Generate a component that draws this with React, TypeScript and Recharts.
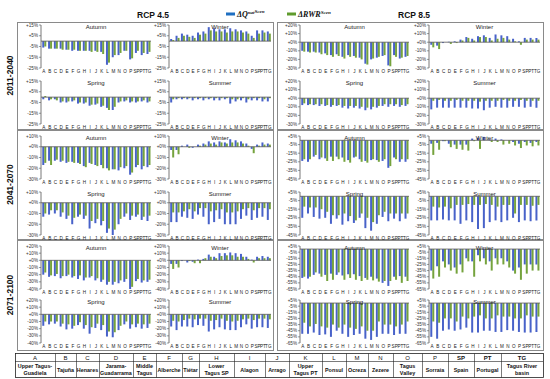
import React from 'react';
import { BarChart, Bar, XAxis, YAxis, ReferenceLine } from 'recharts';

// basin codes shown on every small x axis
const basins = ['A', 'B', 'C', 'D', 'E', 'F', 'G', 'H', 'I', 'J', 'K', 'L', 'M', 'N', 'O', 'P', 'SP', 'PT', 'TG'];

// ---- 2011-2040, RCP 4.5 ----
const q45_1_aut = [-6, -7, -7, -7, -8, -9, -9, -9, -9, -9, -10, -22, -15, -13, -9, -17, -11, -13, -12];
const rwr45_1_aut = [-5, -7, -7, -8, -8, -8, -9, -9, -10, -10, -12, -20, -13, -11, -9, -16, -9, -11, -10];
const q45_1_win = [2, 5, 7, 6, 5, 8, 9, 13, 12, 11, 11, 12, 11, 10, 9, 5, 10, 10, 9];
const rwr45_1_win = [1, 3, 5, 4, 3, 6, 7, 10, 9, 9, 8, 9, 9, 8, 7, 3, 7, 8, 7];
const q45_1_spr = [-2, -3, -2, -5, -5, -4, -6, -6, -8, -7, -9, -10, -12, -5, -4, -5, -5, -4, -5];
const rwr45_1_spr = [1, -2, -3, -4, -4, -3, -5, -5, -7, -6, -8, -12, -9, -4, -3, -4, -4, -3, -4];
const q45_1_sum = [-5, -2, -2, -2, -3, -2, -3, -2, -3, -3, -2, -6, -4, -3, -5, -3, -3, -4, -4];
const rwr45_1_sum = [-2, -1, -1, -1, -1, -1, -1, -1, -1, -1, -1, -2, -2, -1, -2, -1, -1, -2, -1];

// ---- 2011-2040, RCP 8.5 ----
const q85_1_aut = [-10, -11, -11, -12, -13, -15, -14, -17, -15, -16, -18, -25, -20, -18, -16, -27, -15, -19, -17];
const rwr85_1_aut = [-11, -12, -12, -14, -15, -17, -16, -19, -17, -18, -20, -26, -19, -17, -15, -28, -17, -18, -16];
const q85_1_win = [-3, -4, -1, 0.5, 1, 3, 6, 4, 7, 8, 5, 9, 8, 7, 4, 1, 5, 5, 5];
const rwr85_1_win = [-6, -8, 0, -2, -1, 2, 5, 2, 6, 6, 2, 4, 5, 3, 1, -3, 3, 3, 3];
const q85_1_spr = [-8, -8, -8, -9, -9, -10, -9, -11, -12, -11, -12, -14, -13, -11, -9, -10, -9, -10, -9];
const rwr85_1_spr = [-6, -7, -7, -7, -8, -8, -8, -9, -9, -9, -10, -11, -10, -9, -7, -7, -7, -8, -7];
const q85_1_sum = [-13, -11, -11, -11, -11, -11, -11, -12, -12, -14, -11, -10, -11, -11, -10, -10, -11, -10, -11];
const rwr85_1_sum = [-3, -2, -3, -3, -2, -3, -3, -3, -4, -3, -3, -3, -2, -3, -3, -2, -3, -3, -3];

// ---- 2041-2070, RCP 4.5 ----
const q45_2_aut = [-17, -13, -13, -14, -15, -14, -15, -18, -15, -17, -17, -20, -21, -22, -20, -26, -19, -21, -19];
const rwr45_2_aut = [-15, -17, -12, -13, -14, -15, -16, -19, -16, -18, -20, -22, -21, -19, -18, -24, -17, -18, -17];
const q45_2_win = [-3, -3, 1, 2, -1, 2, 3, 5, 4, 5, 4, 7, 6, 5, 3, -2, 2, 4, 3];
const rwr45_2_win = [-10, -7, 0, -1, 0, 1, 2, 3, 2, 4, 3, 4, 4, 3, 1, -6, 1, 2, 2];
const q45_2_spr = [-13, -11, -10, -13, -15, -20, -13, -15, -24, -19, -21, -28, -30, -20, -13, -16, -13, -16, -17];
const rwr45_2_spr = [-10, -7, -7, -9, -12, -14, -11, -12, -17, -15, -17, -24, -25, -15, -10, -12, -11, -13, -12];
const q45_2_sum = [-18, -18, -13, -14, -15, -11, -13, -20, -18, -15, -20, -20, -20, -15, -12, -16, -14, -13, -16];
const rwr45_2_sum = [-9, -9, -8, -6, -8, -5, -5, -8, -7, -6, -9, -9, -8, -6, -5, -7, -5, -5, -6];

// ---- 2041-2070, RCP 8.5 ----
const q85_2_aut = [-24, -25, -19, -22, -21, -19, -19, -20, -23, -20, -22, -24, -23, -23, -24, -32, -20, -25, -25];
const rwr85_2_aut = [-22, -22, -17, -20, -24, -24, -22, -25, -26, -19, -25, -26, -22, -25, -22, -30, -22, -22, -22];
const q85_2_win = [-4, -3, -1, -4, -5, -5, -5, 2, 3, 4, 1, 2, 1, 0, -2, -4, -2, -3, -2];
const rwr85_2_win = [-17, -11, -1, -8, -10, -11, -12, -1, -10, 0, -2, -2, -5, -4, -6, -9, -6, -7, -6];
const q85_2_spr = [-25, -20, -24, -26, -25, -32, -26, -33, -29, -31, -25, -37, -40, -32, -24, -29, -26, -29, -26];
const rwr85_2_spr = [-12, -13, -13, -15, -18, -22, -22, -20, -23, -28, -20, -25, -30, -22, -18, -20, -20, -20, -20];
const q85_2_sum = [-28, -28, -27, -28, -28, -32, -28, -30, -38, -37, -30, -28, -30, -28, -25, -30, -28, -29, -28];
const rwr85_2_sum = [-12, -13, -12, -14, -10, -10, -9, -10, -10, -9, -10, -12, -10, -10, -20, -10, -10, -11, -10];

// ---- 2071-2100, RCP 4.5 ----
const q45_3_aut = [-20, -23, -22, -25, -22, -24, -26, -28, -24, -28, -30, -34, -34, -32, -30, -40, -29, -31, -30];
const rwr45_3_aut = [-17, -21, -19, -22, -20, -22, -21, -24, -22, -25, -27, -30, -30, -28, -26, -37, -26, -28, -27];
const q45_3_win = [-5, -5, -1, -3, -2, 1, 2, 8, 5, 10, 10, 11, 10, 9, 5, 1, 5, 6, 5];
const rwr45_3_win = [-12, -10, 0, -1, -4, -4, 3, 5, 3, 6, 7, 7, 5, 5, 2, -3, 3, 3, 3];
const q45_3_spr = [-16, -14, -13, -17, -21, -20, -15, -20, -27, -19, -22, -31, -32, -22, -14, -20, -18, -20, -19];
const rwr45_3_spr = [-10, -10, -10, -13, -14, -16, -11, -15, -18, -13, -15, -24, -25, -16, -10, -14, -13, -14, -13];
const q45_3_sum = [-17, -22, -17, -17, -18, -15, -16, -24, -21, -18, -21, -22, -22, -18, -14, -20, -18, -18, -19];
const rwr45_3_sum = [-9, -10, -8, -6, -7, -6, -6, -9, -8, -6, -9, -10, -9, -7, -6, -8, -6, -6, -7];

// ---- 2071-2100, RCP 8.5 ----
const q85_3_aut = [-47, -48, -42, -40, -42, -40, -42, -43, -41, -41, -44, -47, -45, -48, -55, -60, -45, -44, -45];
const rwr85_3_aut = [-45, -45, -38, -45, -52, -50, -38, -50, -47, -50, -52, -50, -51, -53, -52, -52, -50, -55, -52];
const q85_3_win = [-35, -28, -20, -25, -30, -25, -15, -20, -10, -15, -20, -15, -15, -20, -35, -30, -25, -25, -25];
const rwr85_3_win = [-48, -45, -30, -35, -40, -38, -20, -45, -20, -25, -35, -25, -25, -30, -40, -50, -40, -35, -35];
const q85_3_spr = [-50, -50, -48, -52, -51, -55, -45, -50, -55, -52, -50, -58, -60, -55, -50, -50, -52, -50, -50];
const rwr85_3_spr = [-32, -38, -34, -38, -40, -35, -40, -35, -40, -42, -38, -45, -45, -30, -35, -35, -38, -35, -30];
const q85_3_sum = [-55, -58, -45, -43, -45, -43, -40, -48, -48, -45, -45, -47, -47, -44, -45, -47, -48, -48, -47];
const rwr85_3_sum = [-30, -32, -25, -25, -30, -22, -25, -22, -20, -25, -25, -20, -22, -22, -25, -25, -20, -22, -22];

// y ticks per row / scenario
const ticks45_1 = [15, 5, -5, -15, -25];
const ticks85_1 = [20, 10, 0, -10, -20, -30];
const ticks45_2 = [10, 0, -10, -20, -30];
const ticks85_2 = [5, -5, -15, -25, -35, -45];
const ticks45_3 = [20, 10, 0, -10, -20, -30, -40];
const ticks85_3 = [5, -5, -15, -25, -35, -45, -55, -65];

const periods = ['2011-2040', '2041-2070', '2071-2100'];

const tableCodes = basins;
const tableNames = [
  ['Upper Tagus-', 'Guadiela'], ['Tajuña'], ['Henares'], ['Jarama-', 'Guadarrama'], ['Middle', 'Tagus'],
  ['Alberche'], ['Tiétar'], ['Lower', 'Tagus SP'], ['Alagon'], ['Arrago'], ['Upper', 'Tagus PT'],
  ['Ponsul'], ['Ocreza'], ['Zezere'], ['Tagus', 'Valley'], ['Sorraia'], ['Spain'], ['Portugal'], ['Tagus River', 'basin'],
];

const BLUE = '#4862c9';
const GREEN = '#75a33d';
const FONT = '"Liberation Sans", Arial, sans-serif';

// layout
const COL_LEFT = [20, 148, 279, 408];
const COL_W = [133, 125, 132, 134];
const ROW_TOP = [22, 130, 240];
const ROW_BOTTOM = [129, 239, 350];
const PLOT_TOP = [[25, 81], [136, 192], [246, 300]];
const PLOT_H = 43;
const Y_W = 21;
const X_H = 8;
const TABLE_X = [15, 55, 76, 99, 133, 156, 182, 199, 234, 265, 289, 322, 346, 368, 393, 422, 448, 474, 501, 543];

const fmt = (v: number) => (v >= 0 ? `+${v}%` : `${v}%`);

interface PanelProps {
  col: number;
  plotTop: number;
  title: string;
  q: number[];
  rwr: number[];
  ticks: number[];
}

function Panel({ col, plotTop, title, q, rwr, ticks }: PanelProps) {
  const data = basins.map((b, i) => ({ name: b, q: q[i], rwr: rwr[i] }));
  const domain = [ticks[ticks.length - 1], ticks[0]];
  const width = COL_W[col];
  return (
    <div style={{ position: 'absolute', left: COL_LEFT[col], top: plotTop - 3 }}>
      <BarChart
        width={width}
        height={PLOT_H + 3 + X_H}
        data={data}
        margin={{ top: 3, right: 2, bottom: 0, left: 0 }}
        barCategoryGap="22%"
        barGap={0}
      >
        <XAxis
          dataKey="name"
          interval={0}
          tickLine={false}
          axisLine={false}
          tickSize={0}
          tickMargin={2}
          height={X_H}
          tick={{ fontSize: 4.6, fill: '#222', fontFamily: FONT }}
        />
        <YAxis
          type="number"
          domain={domain}
          ticks={ticks}
          interval={0}
          width={Y_W}
          tickFormatter={fmt}
          tick={{ fontSize: 4.6, fill: '#333', fontFamily: FONT }}
          tickSize={2}
          tickMargin={1}
          axisLine={{ stroke: '#555', strokeWidth: 0.8 }}
          tickLine={{ stroke: '#555', strokeWidth: 0.6 }}
        />
        <ReferenceLine y={0} stroke="#555" strokeWidth={0.8} />
        <Bar dataKey="q" fill={BLUE} isAnimationActive={false} />
        <Bar dataKey="rwr" fill={GREEN} isAnimationActive={false} />
      </BarChart>
      <div
        style={{
          position: 'absolute',
          left: Y_W,
          width: width - Y_W - 2,
          top: 1.5,
          textAlign: 'center',
          fontFamily: FONT,
          fontSize: 6,
          color: '#222',
          lineHeight: '7px',
        }}
      >
        {title}
      </div>
    </div>
  );
}

const panels: PanelProps[] = [
  // 2011-2040
  { col: 0, plotTop: PLOT_TOP[0][0], title: 'Autumn', q: q45_1_aut, rwr: rwr45_1_aut, ticks: ticks45_1 },
  { col: 1, plotTop: PLOT_TOP[0][0], title: 'Winter', q: q45_1_win, rwr: rwr45_1_win, ticks: ticks45_1 },
  { col: 0, plotTop: PLOT_TOP[0][1], title: 'Spring', q: q45_1_spr, rwr: rwr45_1_spr, ticks: ticks45_1 },
  { col: 1, plotTop: PLOT_TOP[0][1], title: 'Summer', q: q45_1_sum, rwr: rwr45_1_sum, ticks: ticks45_1 },
  { col: 2, plotTop: PLOT_TOP[0][0], title: 'Autumn', q: q85_1_aut, rwr: rwr85_1_aut, ticks: ticks85_1 },
  { col: 3, plotTop: PLOT_TOP[0][0], title: 'Winter', q: q85_1_win, rwr: rwr85_1_win, ticks: ticks85_1 },
  { col: 2, plotTop: PLOT_TOP[0][1], title: 'Spring', q: q85_1_spr, rwr: rwr85_1_spr, ticks: ticks85_1 },
  { col: 3, plotTop: PLOT_TOP[0][1], title: 'Summer', q: q85_1_sum, rwr: rwr85_1_sum, ticks: ticks85_1 },
  // 2041-2070
  { col: 0, plotTop: PLOT_TOP[1][0], title: 'Autumn', q: q45_2_aut, rwr: rwr45_2_aut, ticks: ticks45_2 },
  { col: 1, plotTop: PLOT_TOP[1][0], title: 'Winter', q: q45_2_win, rwr: rwr45_2_win, ticks: ticks45_2 },
  { col: 0, plotTop: PLOT_TOP[1][1], title: 'Spring', q: q45_2_spr, rwr: rwr45_2_spr, ticks: ticks45_2 },
  { col: 1, plotTop: PLOT_TOP[1][1], title: 'Summer', q: q45_2_sum, rwr: rwr45_2_sum, ticks: ticks45_2 },
  { col: 2, plotTop: PLOT_TOP[1][0], title: 'Autumn', q: q85_2_aut, rwr: rwr85_2_aut, ticks: ticks85_2 },
  { col: 3, plotTop: PLOT_TOP[1][0], title: 'Winter', q: q85_2_win, rwr: rwr85_2_win, ticks: ticks85_2 },
  { col: 2, plotTop: PLOT_TOP[1][1], title: 'Spring', q: q85_2_spr, rwr: rwr85_2_spr, ticks: ticks85_2 },
  { col: 3, plotTop: PLOT_TOP[1][1], title: 'Summer', q: q85_2_sum, rwr: rwr85_2_sum, ticks: ticks85_2 },
  // 2071-2100
  { col: 0, plotTop: PLOT_TOP[2][0], title: 'Autumn', q: q45_3_aut, rwr: rwr45_3_aut, ticks: ticks45_3 },
  { col: 1, plotTop: PLOT_TOP[2][0], title: 'Winter', q: q45_3_win, rwr: rwr45_3_win, ticks: ticks45_3 },
  { col: 0, plotTop: PLOT_TOP[2][1], title: 'Spring', q: q45_3_spr, rwr: rwr45_3_spr, ticks: ticks45_3 },
  { col: 1, plotTop: PLOT_TOP[2][1], title: 'Summer', q: q45_3_sum, rwr: rwr45_3_sum, ticks: ticks45_3 },
  { col: 2, plotTop: PLOT_TOP[2][0], title: 'Autumn', q: q85_3_aut, rwr: rwr85_3_aut, ticks: ticks85_3 },
  { col: 3, plotTop: PLOT_TOP[2][0], title: 'Winter', q: q85_3_win, rwr: rwr85_3_win, ticks: ticks85_3 },
  { col: 2, plotTop: PLOT_TOP[2][1], title: 'Spring', q: q85_3_spr, rwr: rwr85_3_spr, ticks: ticks85_3 },
  { col: 3, plotTop: PLOT_TOP[2][1], title: 'Summer', q: q85_3_sum, rwr: rwr85_3_sum, ticks: ticks85_3 },
];

function Overlay() {
  return (
    <svg width={550} height={379} style={{ position: 'absolute', left: 0, top: 0 }}>
      {/* headers */}
      <text x={153} y={18} textAnchor="middle" fontFamily={FONT} fontWeight="bold" fontSize={8.5} fill="#111">RCP 4.5</text>
      <text x={414} y={18} textAnchor="middle" fontFamily={FONT} fontWeight="bold" fontSize={8.5} fill="#111">RCP 8.5</text>
      {/* legend */}
      <rect x={226} y={12.5} width={9} height={3} fill="#1f6fc1" />
      <text x={237} y={17} fontFamily='"Liberation Serif", serif' fontWeight="bold" fontStyle="italic" fontSize={8} fill="#111">
        ΔQ<tspan fontSize={5} dy={-3}>nat</tspan><tspan fontSize={5} dy={-1}>Scen</tspan>
      </text>
      <rect x={287} y={12.5} width={9} height={3} fill="#5f9b2d" />
      <text x={298} y={17} fontFamily='"Liberation Serif", serif' fontWeight="bold" fontStyle="italic" fontSize={8} fill="#111">
        ΔRWR<tspan fontSize={5} dy={-3}>Scen</tspan>
      </text>
      {/* block frames */}
      {ROW_TOP.map((t, i) => (
        <g key={i}>
          <rect x={17.5} y={t + 0.5} width={256} height={ROW_BOTTOM[i] - t} fill="none" stroke="#8a8a8a" strokeWidth={1} />
          <rect x={277.5} y={t + 0.5} width={266} height={ROW_BOTTOM[i] - t} fill="none" stroke="#8a8a8a" strokeWidth={1} />
          <text
            transform={`translate(12.5, ${(t + ROW_BOTTOM[i]) / 2}) rotate(-90)`}
            textAnchor="middle"
            fontFamily={FONT}
            fontWeight="bold"
            fontSize={8.5}
            fill="#111"
          >
            {periods[i]}
          </text>
        </g>
      ))}
      {/* basin table */}
      <rect x={TABLE_X[0] + 0.5} y={353.5} width={TABLE_X[TABLE_X.length - 1] - TABLE_X[0]} height={24} fill="none" stroke="#222" strokeWidth={0.8} />
      <line x1={TABLE_X[0]} x2={TABLE_X[TABLE_X.length - 1]} y1={361.5} y2={361.5} stroke="#222" strokeWidth={0.6} />
      {TABLE_X.slice(1, -1).map((x) => (
        <line key={x} x1={x + 0.5} x2={x + 0.5} y1={353.5} y2={377.5} stroke="#222" strokeWidth={0.6} />
      ))}
      {tableCodes.map((c, i) => {
        const cx = (TABLE_X[i] + TABLE_X[i + 1]) / 2;
        const bold = i >= 16;
        const lines = tableNames[i];
        return (
          <g key={c}>
            <text x={cx} y={360} textAnchor="middle" fontFamily={FONT} fontSize={6} fontWeight={bold ? 'bold' : 'normal'} fill="#111">{c}</text>
            {lines.map((ln, j) => (
              <text
                key={j}
                x={cx}
                y={lines.length === 1 ? 371.5 : 368 + j * 6.5}
                textAnchor="middle"
                fontFamily={FONT}
                fontSize={5.4}
                fontWeight="bold"
                fill="#111"
              >
                {ln}
              </text>
            ))}
          </g>
        );
      })}
    </svg>
  );
}

export default function App() {
  return (
    <div style={{ position: 'absolute', left: 0, top: 0, width: 550, height: 379, background: '#fff', overflow: 'hidden' }}>
      <Overlay />
      {panels.map((p, i) => (
        <Panel key={i} {...p} />
      ))}
    </div>
  );
}
